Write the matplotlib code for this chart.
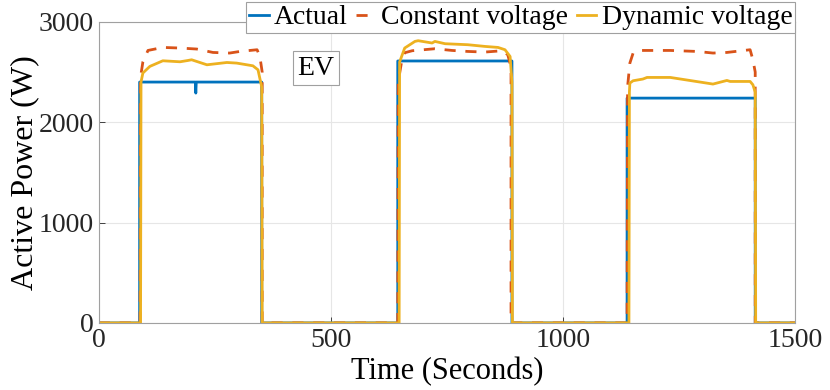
import matplotlib.pyplot as plt

plt.rcParams['font.family'] = ['Liberation Serif', 'DejaVu Serif']
plt.rcParams['mathtext.fontset'] = 'stix'

# Actual EV power (W) vs time (s)
actual_t = [0, 88, 88, 208, 209, 210, 351, 351, 644, 644, 890, 890,
            1138, 1138, 1414, 1414, 1500]
actual_p = [0, 0, 2400, 2400, 2290, 2400, 2400, 0, 0, 2610, 2610, 0,
            0, 2240, 2240, 0, 0]

# Constant voltage model
const_t = [0, 89, 90, 95, 106, 138, 175, 211, 246, 282, 304, 341, 347, 352, 352,
           644, 645, 653, 659, 675, 724, 761, 795, 832, 869, 881, 888, 888,
           1138, 1139, 1144, 1151, 1166, 1231, 1289, 1323, 1353, 1403, 1409, 1414, 1414, 1500]
const_p = [0, 0, 2450, 2600, 2715, 2745, 2739, 2729, 2695, 2689, 2705, 2722, 2655, 2500, 0,
           0, 2400, 2622, 2692, 2712, 2732, 2715, 2705, 2699, 2712, 2672, 2550, 0,
           0, 2350, 2589, 2689, 2715, 2715, 2705, 2689, 2695, 2722, 2622, 2500, 0, 0]

# Dynamic voltage model
dyn_t = [0, 90, 91, 95, 110, 138, 175, 192, 200, 233, 276, 297, 332, 343, 351, 352,
         647, 648, 659, 681, 688, 718, 724, 746, 795, 832, 860, 875, 886, 890, 891,
         1142, 1143, 1144, 1151, 1172, 1181, 1231, 1323, 1353, 1360, 1403, 1409, 1414, 1415, 1500]
dyn_p = [0, 0, 2400, 2490, 2556, 2612, 2602, 2615, 2622, 2572, 2595, 2589, 2562, 2522, 2350, 0,
         0, 2600, 2739, 2805, 2812, 2789, 2805, 2782, 2772, 2755, 2745, 2722, 2655, 2400, 0,
         0, 2300, 2390, 2413, 2430, 2446, 2446, 2380, 2416, 2406, 2406, 2373, 2300, 0, 0]

fig = plt.figure(figsize=(8.3, 3.9), dpi=100)
ax = fig.add_axes([0.119, 0.172, 0.839, 0.772])

ax.plot(actual_t, actual_p, color='#0072BD', lw=2, label='Actual')
ax.plot(const_t, const_p, color='#D95319', lw=2, ls=(0, (4, 3.5)), label='Constant voltage')
ax.plot(dyn_t, dyn_p, color='#EDB120', lw=2, label='Dynamic voltage')

ax.set_xlim(0, 1500)
ax.set_ylim(0, 3000)
ax.set_xticks([0, 500, 1000, 1500])
ax.set_yticks([0, 1000, 2000, 3000])
ax.grid(color='#e6e6e6', lw=0.8)
ax.tick_params(direction='in', labelsize=20, colors='#262626', length=4, width=0.6)
for s in ax.spines.values():
    s.set_color('#a0a0a0')
    s.set_linewidth(0.8)

ax.set_xlabel('Time (Seconds)', fontsize=22, labelpad=3)
ax.set_ylabel('Active Power (W)', fontsize=23, labelpad=0)

ax.text(468, 2540, 'EV', fontsize=20, ha='center', va='center',
        bbox=dict(facecolor='white', edgecolor='#a0a0a0', lw=0.8, pad=3))

leg = ax.legend(loc='upper right', bbox_to_anchor=(1.0, 1.065), ncol=3, fontsize=20,
                handlelength=0.7, handletextpad=0.2, columnspacing=0.3,
                borderpad=0.1, borderaxespad=0, fancybox=False, framealpha=1)
leg.get_frame().set_edgecolor('#a0a0a0')
leg.get_frame().set_linewidth(0.8)

plt.savefig('out.png', dpi=100)
